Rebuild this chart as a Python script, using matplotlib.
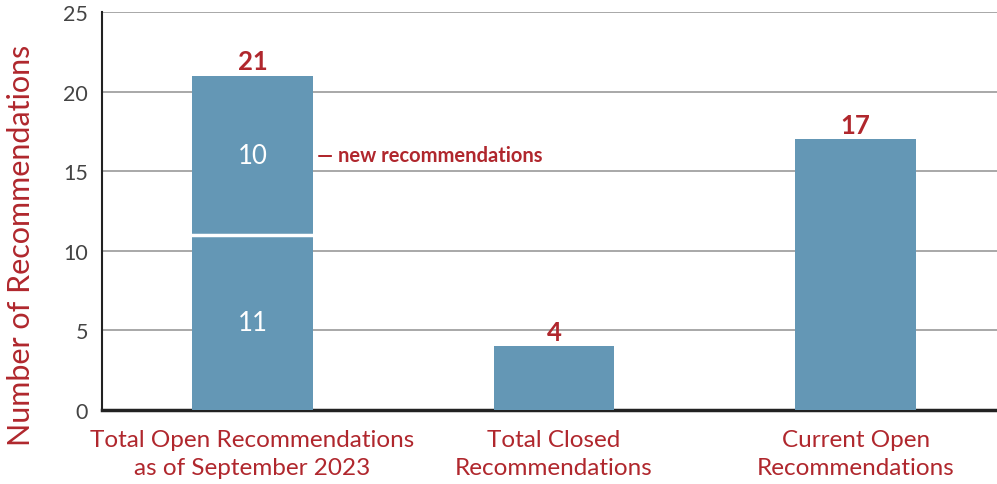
import matplotlib
matplotlib.use("Agg")
import matplotlib.pyplot as plt

categories = ["Total Open Recommendations\nas of September 2023",
              "Total Closed\nRecommendations",
              "Current Open\nRecommendations"]
totals = [21, 4, 17]
existing = [11, 4, 17]
new_recs = [10, 0, 0]
yticks = [0, 5, 10, 15, 20, 25]

RED = "#b0272d"
BLUE = "#6497b5"
FONT = "Lato"

fig = plt.figure(figsize=(9.97, 4.85), dpi=100)
ax = fig.add_axes([102/997, 1 - 411/485, (997-102)/997, (411-13)/485])

x = list(range(len(categories)))
w = 0.40
ax.bar(x, existing, width=w, color=BLUE, zorder=3)
ax.bar(x[0], new_recs[0], width=w, bottom=existing[0], color=BLUE, zorder=3)
# white separator
ax.plot([x[0]-w/2, x[0]+w/2], [existing[0], existing[0]], color="white", lw=2.5, zorder=4)

for xi, t in zip(x, totals):
    ax.text(xi, t + 0.15, str(t), ha="center", va="bottom", color=RED,
            fontsize=18.5, fontweight="bold", family=FONT, zorder=5)

ax.text(x[0], existing[0]/2, str(existing[0]), ha="center", va="center",
        color="white", fontsize=18.5, family=FONT, zorder=5)
ax.text(x[0], existing[0] + new_recs[0]/2, str(new_recs[0]), ha="center", va="center",
        color="white", fontsize=18.5, family=FONT, zorder=5)
ax.text(x[0] + w/2 + 0.015, existing[0] + new_recs[0]/2, "— new recommendations",
        ha="left", va="center", color=RED, fontsize=14.5, fontweight="bold",
        family=FONT, zorder=5)

ax.set_xlim(-0.499, 2.469)
ax.set_ylim(0, 25)
ax.set_yticks(yticks)
ax.yaxis.grid(True, color="#999999", lw=1.2, zorder=0)
ax.set_axisbelow(True)
for s in ["top", "right"]:
    ax.spines[s].set_visible(False)
ax.spines["left"].set_color("#222222")
ax.spines["left"].set_linewidth(1.5)
ax.spines["bottom"].set_color("#222222")
ax.spines["bottom"].set_linewidth(2.5)
ax.tick_params(axis="y", length=0, pad=10, labelsize=15.5, labelcolor="#444444")
ax.tick_params(axis="x", length=0, pad=14)
for lab in ax.get_yticklabels():
    lab.set_family(FONT)
ax.set_xticks(x)
ax.set_xticklabels(categories, color=RED, fontsize=17.5, family=FONT, linespacing=1.4)
ax.set_ylabel("Number of Recommendations", color=RED, fontsize=22, family=FONT)
ax.yaxis.set_label_coords(-67/895, 0.417)

fig.savefig("out.png", dpi=100)
